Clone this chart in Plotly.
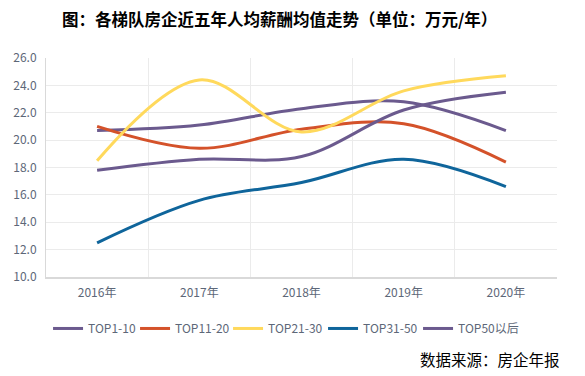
import plotly.graph_objects as go

years = ["2016年", "2017年", "2018年", "2019年", "2020年"]
series_names = ["TOP1-10", "TOP11-20", "TOP21-30", "TOP31-50", "TOP50以后"]
top1_10 = [20.7, 21.1, 22.3, 22.8, 20.7]
top11_20 = [21.0, 19.4, 20.8, 21.2, 18.4]
top21_30 = [18.5, 24.4, 20.6, 23.6, 24.7]
top31_50 = [12.5, 15.6, 16.9, 18.6, 16.6]
top50_after = [17.8, 18.6, 18.8, 22.2, 23.5]
colors = ["#6b5a8e", "#d4522a", "#ffd95c", "#0f659b", "#6b5a8e"]
legend_widths = [42, 48, 50, 50, 70]

values = [top1_10, top11_20, top21_30, top31_50, top50_after]

FONT = "Microsoft YaHei, Noto Sans CJK SC, sans-serif"

fig = go.Figure()
for name, vals, col, lw in zip(series_names, values, colors, legend_widths):
    fig.add_trace(go.Scatter(
        x=years, y=vals, name=name, mode="lines", legendwidth=lw,
        line=dict(color=col, width=3, shape="spline", smoothing=1.0),
    ))

fig.update_layout(
    width=585, height=376,
    margin=dict(l=46, r=28, t=58, b=99, autoexpand=False),
    paper_bgcolor="white", plot_bgcolor="white",
    font=dict(family=FONT, size=12, color="#5d6778"),
    title=dict(text="<b>图：各梯队房企近五年人均薪酬均值走势（单位：万元/年）</b>",
               x=0.478, xanchor="center", y=0.945, yanchor="middle",
               font=dict(family="Noto Sans CJK SC", size=16.5, color="#000000")),
    showlegend=True,
    legend=dict(orientation="h", x=0.004, xanchor="left", y=-0.235, yanchor="middle",
                font=dict(size=12, color="#5d6778"), itemwidth=30,
                tracegroupgap=0, traceorder="normal"),
    annotations=[dict(text="数据来源：房企年报", xref="paper", yref="paper",
                      x=1.01, xanchor="right", y=-0.375, yanchor="middle",
                      showarrow=False,
                      font=dict(family="Noto Sans CJK SC", size=15.5, color="#000000"))],
)

fig.update_xaxes(type="category", tickson="boundaries", range=[-0.5, 4.5],
                 showgrid=True, gridcolor="#ebebeb", gridwidth=1, showline=True,
                 linecolor="#d9d9d9", linewidth=2, ticks="", ticklabelstandoff=4,
                 zeroline=False)
fig.update_yaxes(range=[10, 26], dtick=2, tickformat=".1f", showgrid=True,
                 gridcolor="#ebebeb", gridwidth=1, showline=True,
                 linecolor="#d9d9d9", linewidth=1, ticks="", ticklabelstandoff=6,
                 zeroline=False)

fig.write_html("out.html", config={"displayModeBar": False},
               post_script="document.body.style.margin='0';document.body.style.padding='0';")
